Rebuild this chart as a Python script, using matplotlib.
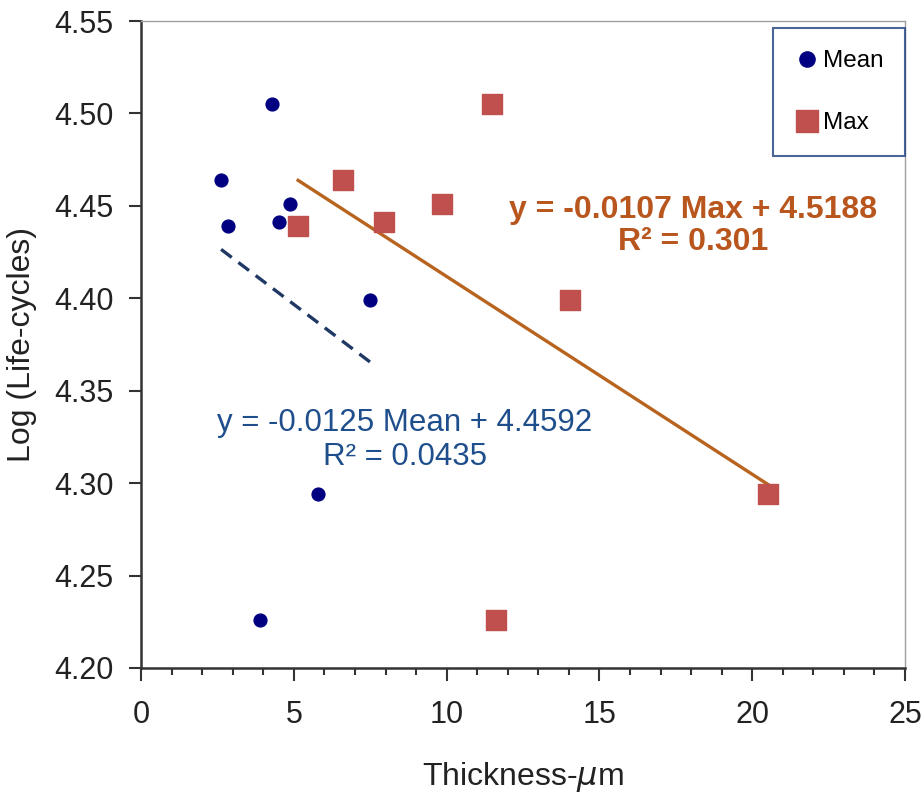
import matplotlib
matplotlib.use('Agg')
import matplotlib.pyplot as plt
from matplotlib.ticker import MultipleLocator, FormatStrFormatter
import numpy as np

plt.rcParams['font.family'] = ['Liberation Sans', 'DejaVu Sans']

# data
mean_x = [2.62, 2.85, 4.29, 4.88, 4.52, 7.49, 5.79, 3.89]
mean_y = [4.464, 4.439, 4.505, 4.451, 4.441, 4.399, 4.294, 4.226]
max_x = [5.14, 6.61, 7.95, 9.85, 11.49, 14.04, 20.52, 11.62]
max_y = [4.439, 4.464, 4.441, 4.451, 4.505, 4.399, 4.294, 4.226]

# trend line coefficients (from chart labels)
mean_slope, mean_icpt = -0.0125, 4.4592
max_slope, max_icpt = -0.0107, 4.5188

fig = plt.figure(figsize=(9.23, 7.99), dpi=100)
ax = fig.add_axes([0.1528, 0.164, 0.8277, 0.8097])

ax.scatter(mean_x, mean_y, s=85, marker='o', color='#000080', zorder=3, label='Mean')
ax.scatter(max_x, max_y, s=220, marker='s', color='#C0504D', zorder=3, label='Max')

# trend lines
xm = np.array([min(mean_x), max(mean_x)])
ax.plot(xm, mean_slope * xm + mean_icpt, color='#1F3864', lw=2.4, ls=(0, (4, 2.5)), zorder=2)
xx = np.array([min(max_x), max(max_x)])
ax.plot(xx, max_slope * xx + max_icpt, color='#B8641E', lw=2.4, zorder=2)

ax.text(18.06, 4.439, 'y = -0.0107 Max + 4.5188\nR² = 0.301', ha='center', va='center',
        fontsize=23, fontweight='bold', color='#B8561E', linespacing=1.1)
ax.text(8.64, 4.3233, 'y = -0.0125 Mean + 4.4592\nR² = 0.0435', ha='center', va='center',
        fontsize=22.5, color='#1F4E8C', linespacing=1.15)

ax.set_xlim(0, 25)
ax.set_ylim(4.20, 4.55)
ax.xaxis.set_major_locator(MultipleLocator(5))
ax.xaxis.set_minor_locator(MultipleLocator(1))
ax.yaxis.set_major_locator(MultipleLocator(0.05))
ax.yaxis.set_major_formatter(FormatStrFormatter('%.2f'))
ax.tick_params(axis='both', which='major', direction='out', length=9, width=1.5,
               labelsize=22, color='#333333', labelcolor='#222222')
ax.tick_params(axis='x', which='major', pad=14)
ax.tick_params(axis='y', which='major', pad=11)
ax.tick_params(axis='x', which='minor', direction='out', length=5, width=1.5, color='#333333')

for s in ['left', 'bottom']:
    ax.spines[s].set_color('#333333')
    ax.spines[s].set_linewidth(1.8)
for s in ['top', 'right']:
    ax.spines[s].set_color('#A0A0A0')
    ax.spines[s].set_linewidth(1.0)

ax.set_xlabel(r'Thickness-$\mu$m', fontsize=23, labelpad=22, color='#222222')
ax.set_ylabel('Log (Life-cycles)', fontsize=23, labelpad=12, color='#222222')

leg = ax.legend(loc='upper right', bbox_to_anchor=(1.0, 0.989), fontsize=17.5, frameon=True,
                fancybox=False, edgecolor='#1F3F7F', handletextpad=0.15, labelspacing=1.65,
                borderpad=0.9, borderaxespad=0, handlelength=1.0, scatteryoffsets=[0.5])
leg.get_frame().set_linewidth(1.5)
leg.legend_handles[0].set_sizes([120])
leg.legend_handles[1].set_sizes([230])

fig.savefig('out.png', dpi=100)
